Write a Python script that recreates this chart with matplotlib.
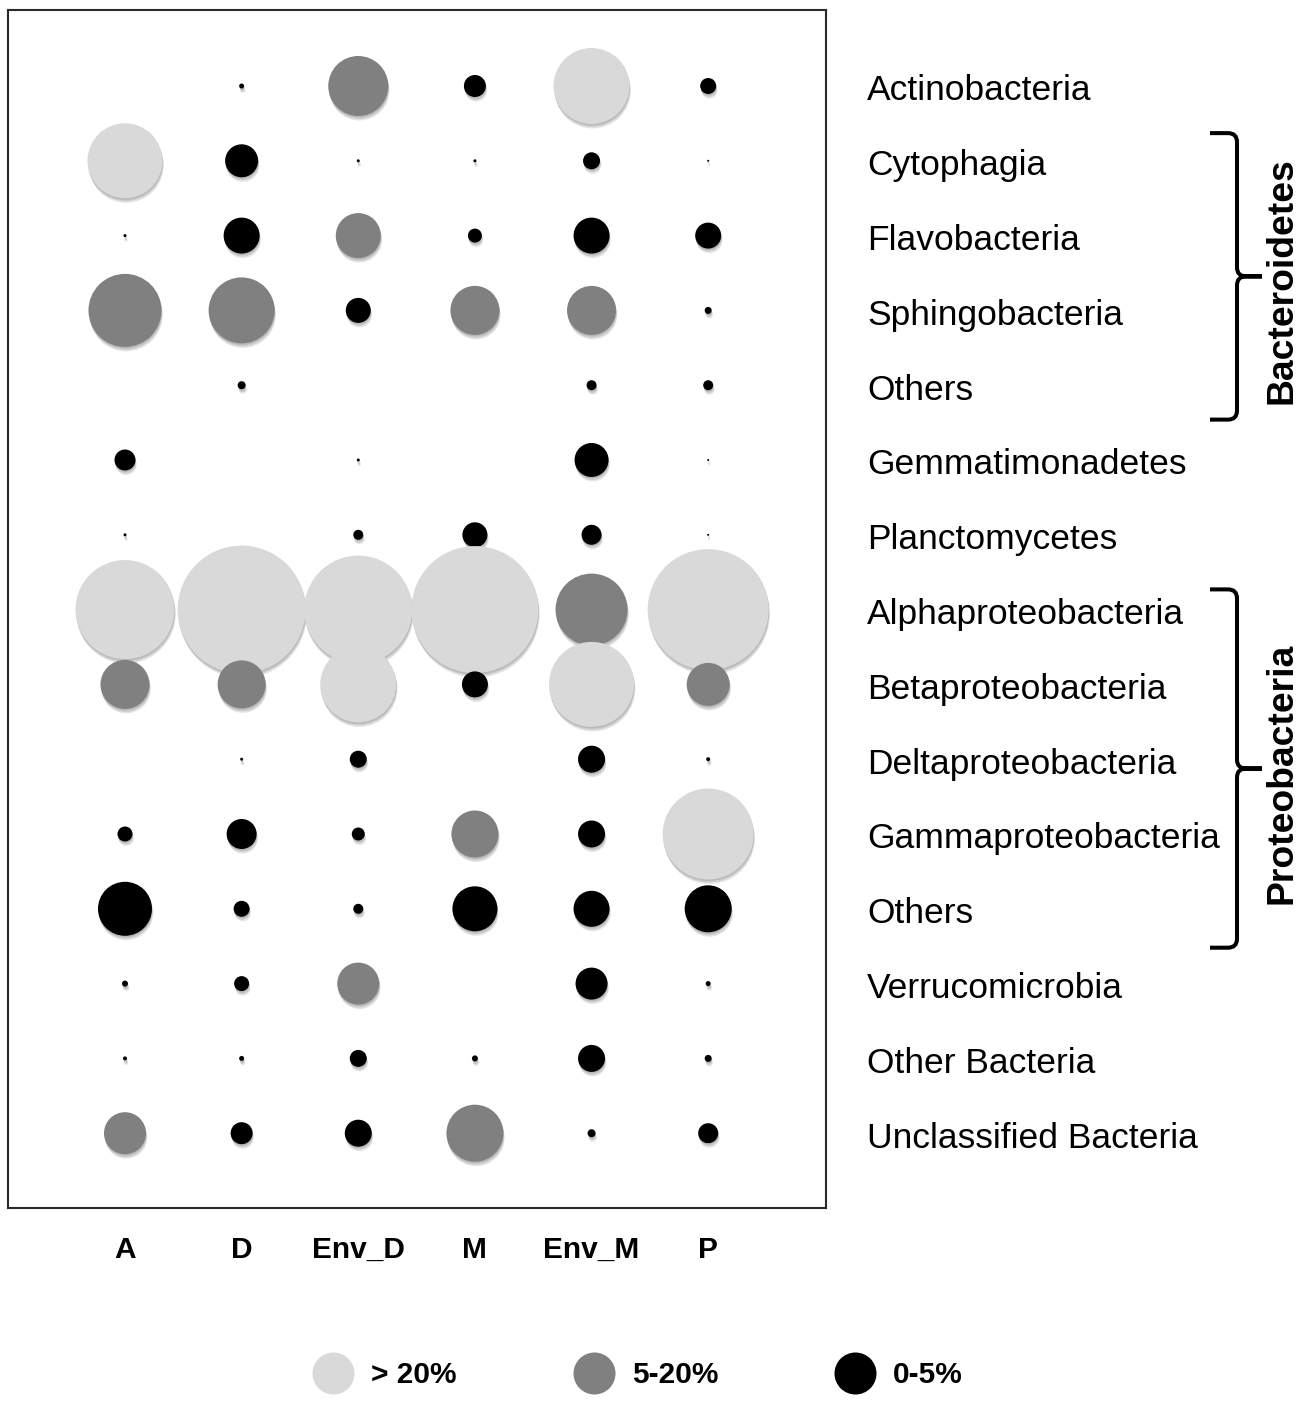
import numpy as np
import matplotlib
matplotlib.use('Agg')
import matplotlib.pyplot as plt
from matplotlib.transforms import offset_copy, blended_transform_factory, IdentityTransform
from matplotlib.path import Path
from matplotlib.patches import PathPatch
from matplotlib.lines import Line2D

plt.rcParams['font.family'] = ['Liberation Sans', 'DejaVu Sans']

# ---------------- data ----------------
samples = ['A', 'D', 'Env_D', 'M', 'Env_M', 'P']
taxa = ['Actinobacteria', 'Cytophagia', 'Flavobacteria', 'Sphingobacteria', 'Others',
        'Gemmatimonadetes', 'Planctomycetes', 'Alphaproteobacteria', 'Betaproteobacteria',
        'Deltaproteobacteria', 'Gammaproteobacteria', 'Others', 'Verrucomicrobia',
        'Other Bacteria', 'Unclassified Bacteria']

# relative bubble scale (taxa order), one list per sample
size_A    = [0, 75, 3, 73, 0, 21, 3, 99, 49, 0, 15, 54, 6, 4, 42]
size_D    = [5, 33, 36, 66, 8, 0, 0, 128, 48, 3, 30, 16, 15, 5, 22]
size_EnvD = [60, 3, 45, 25, 0, 3, 10, 108, 76, 17, 13, 10, 42, 17, 27]
size_M    = [22, 3, 14, 49, 0, 0, 25, 127, 26, 0, 47, 45, 0, 6, 57]
size_EnvM = [76, 17, 36, 49, 10, 34, 20, 72, 85, 27, 27, 36, 32, 27, 8]
size_P    = [16, 2, 26, 7, 10, 2, 2, 121, 43, 4, 91, 47, 5, 7, 20]

# abundance class of every bubble
cls_A    = ['0-5', '>20', '0-5', '5-20', '0-5', '0-5', '0-5', '>20', '5-20', '0-5', '0-5', '0-5', '0-5', '0-5', '5-20']
cls_D    = ['0-5', '0-5', '0-5', '5-20', '0-5', '0-5', '0-5', '>20', '5-20', '0-5', '0-5', '0-5', '0-5', '0-5', '0-5']
cls_EnvD = ['5-20', '0-5', '5-20', '0-5', '0-5', '0-5', '0-5', '>20', '>20', '0-5', '0-5', '0-5', '5-20', '0-5', '0-5']
cls_M    = ['0-5', '0-5', '0-5', '5-20', '0-5', '0-5', '0-5', '>20', '0-5', '0-5', '5-20', '0-5', '0-5', '0-5', '5-20']
cls_EnvM = ['>20', '0-5', '0-5', '5-20', '0-5', '0-5', '0-5', '5-20', '>20', '0-5', '0-5', '0-5', '0-5', '0-5', '0-5']
cls_P    = ['0-5', '0-5', '0-5', '0-5', '0-5', '0-5', '0-5', '>20', '5-20', '0-5', '>20', '0-5', '0-5', '0-5', '0-5']

class_keys = ['>20', '5-20', '0-5']
class_labels = ['> 20%', '5-20%', '0-5%']
class_colors = {'>20': '#d9d9d9', '5-20': '#808080', '0-5': '#000000'}

groups = ['Bacteroidetes', 'Proteobacteria']
group_rows = [(1, 4), (7, 11)]

sizes = [size_A, size_D, size_EnvD, size_M, size_EnvM, size_P]
classes = [cls_A, cls_D, cls_EnvD, cls_M, cls_EnvM, cls_P]

# ---------------- figure ----------------
W, H, DPI = 1300, 1405, 100
fig = plt.figure(figsize=(W / DPI, H / DPI), dpi=DPI)
ax = fig.add_axes([8 / W, 1 - 1208 / H, (826 - 8) / W, (1208 - 10) / H])
ax.set_xlim(-1.003, 6.01)
ax.set_ylim(15.0, -1.016)
ax.set_xticks([])
ax.set_yticks([])
for sp in ax.spines.values():
    sp.set_linewidth(1.5)
    sp.set_color('#2a2a2a')

px2pt = 72.0 / DPI
shadow_layers = [(0.4, -1.5), (0.8, -3.0), (1.2, -4.5)]

for i in range(len(taxa)):
    xs, ss, cs = [], [], []
    for j in range(len(samples)):
        v = sizes[j][i]
        if v > 0:
            xs.append(j)
            ss.append((v * px2pt) ** 2)
            cs.append(class_colors[classes[j][i]])
    ys = [i] * len(xs)
    for dx, dy in shadow_layers:
        tr = offset_copy(ax.transData, fig=fig, x=dx, y=dy, units='dots')
        ax.scatter(xs, ys, s=ss, c='black', alpha=0.10, linewidths=0,
                   transform=tr, zorder=3 + 2 * i)
    ax.scatter(xs, ys, s=ss, c=cs, linewidths=0, zorder=4 + 2 * i)

# row labels
row_tr = offset_copy(blended_transform_factory(fig.transFigure, ax.transData),
                     fig=fig, x=0, y=-14.5, units='dots')
for i, t in enumerate(taxa):
    ax.text(867 / W, i, t, transform=row_tr, ha='left', va='baseline',
            fontsize=25.5, color='black', clip_on=False)

# column labels
col_tr = blended_transform_factory(ax.transData, fig.transFigure)
for j, s in enumerate(samples):
    ax.text(j, 1 - 1258 / H, s, transform=col_tr, ha='center', va='baseline',
            fontsize=21.5, fontweight='bold', clip_on=False)

# group braces
fig.canvas.draw()
brace_pad = [(0.37, 0.46), (0.27, 0.52)]
x_hook, x_v, x_tip, r = 1210, 1237, 1262, 9
for (g, (r0, r1), (pt, pb)) in zip(groups, group_rows, brace_pad):
    yt = ax.transData.transform((0, r0 - pt))[1]
    yb = ax.transData.transform((0, r1 + pb))[1]
    ym = 0.5 * (yt + yb)
    verts = [(x_hook, yt), (x_v - r, yt), (x_v, yt), (x_v, yt - r),
             (x_v, ym + r), (x_v, ym), (x_v + r, ym), (x_tip, ym),
             (x_tip, ym), (x_v + r, ym), (x_v, ym), (x_v, ym - r),
             (x_v, yb + r), (x_v, yb), (x_v - r, yb), (x_hook, yb)]
    codes = [Path.MOVETO, Path.LINETO, Path.CURVE3, Path.CURVE3,
             Path.LINETO, Path.CURVE3, Path.CURVE3, Path.LINETO,
             Path.MOVETO, Path.LINETO, Path.CURVE3, Path.CURVE3,
             Path.LINETO, Path.CURVE3, Path.CURVE3, Path.LINETO]
    patch = PathPatch(Path(verts, codes), fill=False, lw=2.9, edgecolor='black',
                      transform=IdentityTransform(), capstyle='butt')
    fig.add_artist(patch)
    gy = ax.transData.inverted().transform((0, ym))[1]
    g_tr = offset_copy(blended_transform_factory(fig.transFigure, ax.transData),
                       fig=fig, x=0, y=-4.5, units='dots')
    ax.text(1292 / W, gy, g, transform=g_tr, rotation=90, rotation_mode='anchor',
            ha='center', va='baseline', fontsize=26.8, fontweight='bold', clip_on=False)

# legend
handles = [Line2D([], [], marker='o', ls='', markersize=42 * px2pt,
                  markerfacecolor=class_colors[k], markeredgewidth=0)
           for k in class_keys]
ax.legend(handles, class_labels, ncol=3, loc='center left',
          bbox_to_anchor=(312 / W, 1 - 1375 / H), bbox_transform=fig.transFigure,
          frameon=False, prop={'size': 21.5, 'weight': 'bold'},
          handlelength=1.40, handletextpad=0.57, columnspacing=3.9,
          borderpad=0, borderaxespad=0, numpoints=1)

fig.savefig('out.png', dpi=DPI, facecolor='white')
